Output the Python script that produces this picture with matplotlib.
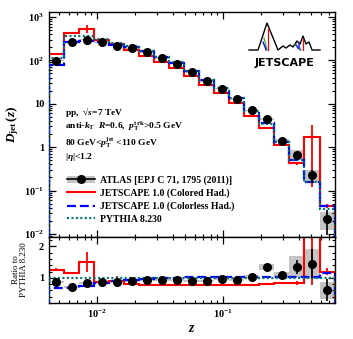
import numpy as np
import matplotlib.pyplot as plt
from matplotlib.lines import Line2D
from matplotlib.patches import Patch
from matplotlib.ticker import LogLocator, FuncFormatter, MultipleLocator, NullFormatter

plt.rcParams['font.family'] = 'Liberation Serif'
plt.rcParams['font.weight'] = 'bold'
plt.rcParams['mathtext.fontset'] = 'custom'
plt.rcParams['mathtext.rm'] = 'Liberation Serif:bold'
plt.rcParams['mathtext.it'] = 'Liberation Serif:italic:bold'
plt.rcParams['mathtext.bf'] = 'Liberation Serif:bold'

# z bin edges (19 bins)
z_edges = [0.004159, 0.005473, 0.007204, 0.009482, 0.01248, 0.01642, 0.02162,
           0.02845, 0.03745, 0.04929, 0.06486, 0.08537, 0.1124, 0.1479, 0.1946,
           0.2562, 0.3372, 0.4437, 0.5840, 0.7686]

# D_jet(z) top panel
atlas = [98, 265, 300, 265, 218, 190, 153, 113, 84, 53, 33, 22.3, 13, 7.0,
         4.5, 1.42, 0.67, 0.225, 0.022]
atlas_stat_rel = [0.02] * 13 + [0.03, 0.05, 0.06, 0.17, 0.32, 0.58]
atlas_sys_rel = [0.04] * 13 + [0.05, 0.07, 0.09, 0.25, 0.33, 0.43]
colored = [142, 427, 530, 290, 232, 172, 128, 94, 68, 43, 27, 17.5, 10.6,
           5.2, 2.7, 1.1, 0.42, 1.72, 0.045]
colored_err_rel = [0.03, 0.03, 0.21, 0.03, 0.17, 0.03, 0.03, 0.03, 0.03, 0.03,
                   0.03, 0.03, 0.03, 0.03, 0.04, 0.05, 0.08, 0.93, 0.1]
colorless = [77, 262, 275, 265, 228, 200, 160, 120, 89, 58, 36, 23, 13.8,
             7.1, 3.6, 1.32, 0.51, 0.16, 0.043]
pythia = [113, 365, 358, 310, 250, 210, 165, 122, 90, 58, 36, 23, 13.8, 6.9,
          3.5, 1.30, 0.50, 0.155, 0.037]

# ratio to PYTHIA 8.230
ratio_atlas = [0.87, 0.71, 0.84, 0.87, 0.87, 0.90, 0.93, 0.93, 0.93, 0.90,
               0.90, 0.97, 0.94, 1.03, 1.35, 1.10, 1.35, 1.45, 0.60]
ratio_colored = [1.26, 1.16, 1.50, 0.88, 0.90, 0.80, 0.78, 0.77, 0.77, 0.77,
                 0.77, 0.77, 0.77, 0.78, 0.80, 0.84, 0.84, 11.0, 1.20]
ratio_colorless = [0.68, 0.68, 0.74, 0.84, 0.90, 0.93, 0.97, 1.00, 1.01, 1.02,
                   1.02, 1.02, 1.02, 1.02, 1.02, 1.02, 1.02, 1.02, 1.15]
ratio_pythia = [1.0] * 19

RED = '#ff0000'
BLUE = '#0000ff'
TEAL = '#00756f'
GRAY = '#c4c4c4'

edges = np.array(z_edges)
centers = np.sqrt(edges[:-1] * edges[1:])
widths = np.diff(edges)


def draw(ax, d, d_stat, d_sys, red, red_err, blue, teal):
    d = np.array(d)
    ax.bar(edges[:-1], 2 * d * np.array(d_sys), bottom=d - d * np.array(d_sys),
           width=widths, align='edge', color=GRAY, zorder=1)
    ax.stairs(red, edges, color=RED, lw=1.5, zorder=2)
    ax.errorbar(centers, red, yerr=np.array(red) * np.array(red_err), fmt='none',
                ecolor=RED, elinewidth=1.3, capsize=0, zorder=2)
    ax.stairs(blue, edges, color=BLUE, lw=1.6, linestyle=(0, (4, 1.8)), zorder=3)
    ax.stairs(teal, edges, color=TEAL, lw=1.6, linestyle=(0, (0.9, 1.1)), zorder=4)
    ax.errorbar(centers, d, yerr=d * np.array(d_stat), fmt='o', color='k', ms=5.5,
                elinewidth=1.2, capsize=0, zorder=5)


fig = plt.figure(figsize=(3.53, 3.39), dpi=100)
ax1 = fig.add_axes([0.1388, 0.3009, 0.8102, 0.6637])
ax2 = fig.add_axes([0.1388, 0.1062, 0.8102, 0.1947], sharex=ax1)

draw(ax1, atlas, atlas_stat_rel, atlas_sys_rel, colored, colored_err_rel,
     colorless, pythia)
draw(ax2, ratio_atlas, atlas_stat_rel, atlas_sys_rel, ratio_colored,
     colored_err_rel, ratio_colorless, ratio_pythia)

ax1.set_xscale('log')
ax1.set_yscale('log')
ax1.set_xlim(0.00416, 0.775)
ax1.set_ylim(0.0085, 1300)
ax2.set_ylim(0.2, 2.3)


def dec_fmt(v, pos):
    n = int(round(np.log10(v)))
    if n == 0:
        return '1'
    if n == 1:
        return '10'
    return r'$10^{%d}$' % n


ax1.yaxis.set_major_locator(LogLocator(base=10, numticks=12))
ax1.yaxis.set_minor_locator(LogLocator(base=10, subs=np.arange(2, 10), numticks=12))
ax1.yaxis.set_major_formatter(FuncFormatter(dec_fmt))
ax1.yaxis.set_minor_formatter(NullFormatter())
ax1.xaxis.set_major_locator(LogLocator(base=10, numticks=12))
ax1.xaxis.set_minor_locator(LogLocator(base=10, subs=np.arange(2, 10), numticks=12))
ax1.xaxis.set_major_formatter(FuncFormatter(dec_fmt))
ax1.xaxis.set_minor_formatter(NullFormatter())
ax2.yaxis.set_major_locator(MultipleLocator(1))
ax2.yaxis.set_minor_locator(MultipleLocator(0.2))

for ax in (ax1, ax2):
    ax.tick_params(which='both', direction='in', top=True, right=True, labelsize=7.5)
    ax.tick_params(which='major', length=5, width=0.9)
    ax.tick_params(which='minor', length=2.5, width=0.8)
    for s in ax.spines.values():
        s.set_linewidth(1.0)
ax1.tick_params(labelbottom=False)
ax2.tick_params(axis='x', pad=3)

ax1.set_ylabel(r'$D_{\rm jet}\,(z)$', fontsize=9.5, labelpad=2)
ax2.set_xlabel(r'$z$', fontsize=10, labelpad=2)
ax2.set_ylabel('Ratio to\nPYTHIA 8.230', fontsize=6.5, labelpad=8, linespacing=1.0)

txt = ['pp,  \u221a$s$=7 TeV',
       r'anti-$k_{\rm T}$  $R$=0.6,  $p_{\rm T}^{\rm trk}$>0.5 GeV',
       r'80 GeV<$p_{\rm T}^{\rm jet}$ <110 GeV',
       r'$|\eta|$<1.2']
for t, yy in zip(txt, [0.557, 0.491, 0.422, 0.355]):
    ax1.text(0.056, yy, t, transform=ax1.transAxes, fontsize=6.8, va='center')

handles = [(Patch(facecolor=GRAY, edgecolor='none'),
            Line2D([], [], color='k', marker='o', ms=5.5, lw=1.2)),
           Line2D([], [], color=RED, lw=1.5),
           Line2D([], [], color=BLUE, lw=1.6, linestyle=(0, (4, 1.8))),
           Line2D([], [], color=TEAL, lw=1.6, linestyle=(0, (0.9, 1.1)))]
labels = ['ATLAS [EPJ C 71, 1795 (2011)]', 'JETSCAPE 1.0 (Colored Had.)',
          'JETSCAPE 1.0 (Colorless Had.)', 'PYTHIA 8.230']
fig.legend(handles, labels, loc='upper left', bbox_to_anchor=(0.19, 0.483),
           frameon=False, fontsize=7, handlelength=2.9, handletextpad=0.45,
           labelspacing=0.37, borderpad=0, borderaxespad=0)

# JETSCAPE logo
lg = fig.add_axes([248 / 353, 1 - 72 / 339, 74 / 353, 52 / 339])
lg.set_xlim(248, 322)
lg.set_ylim(72, 20)
lg.axis('off')
lg.plot([249, 258, 267, 278, 283, 286, 290, 293, 297, 300, 303, 306, 309, 312, 320],
        [50, 50, 23, 50, 46, 48, 45, 47, 41, 44, 36, 44, 42, 50, 50], color='k', lw=1.0)
lg.plot([267.5, 267.5], [29, 50], color=RED, lw=0.9)
lg.plot([264, 267], [38, 50], color='#33aa33', lw=0.9)
lg.plot([263, 265, 266], [42, 47, 50], color=BLUE, lw=0.9)
lg.plot([302.5, 302.5], [39, 50], color=RED, lw=0.9)
lg.plot([295, 301], [45, 50], color='#33aa33', lw=0.9)
lg.plot([296, 298, 299, 300], [44, 49, 43, 50], color=BLUE, lw=0.9, alpha=0.7)
lg.text(285, 63, 'JETSCAPE', fontsize=8, fontweight='bold', family='DejaVu Sans',
        ha='center', va='center')

fig.savefig('out.png', dpi=100)
